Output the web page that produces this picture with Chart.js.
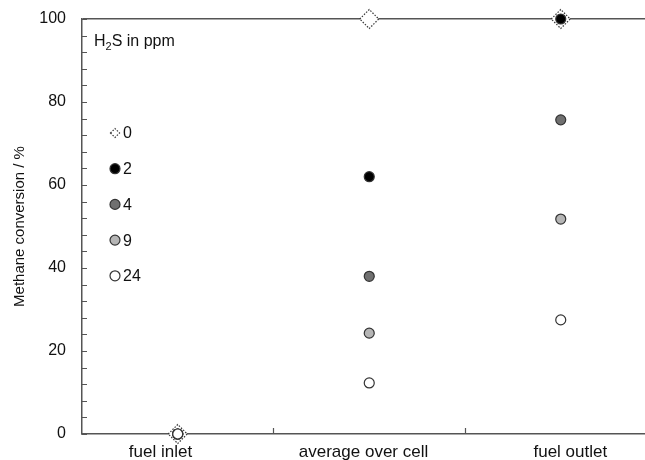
<!DOCTYPE html>
<html lang="en">
<head>
  <meta charset="UTF-8" />
  <title>Methane conversion</title>
  <script src="https://cdn.jsdelivr.net/npm/chart.js"></script>
  <style>
    html, body { margin: 0; padding: 0; background: #fff; overflow: hidden; }
    canvas { display: block; }
  </style>
</head>
<body>
  <canvas id="chart" width="645" height="460"></canvas>

  <script>
    // positions along the cell
    const categories = ['fuel inlet', 'average over cell', 'fuel outlet'];
    // H2S levels in ppm
    const ppm = ['0', '2', '4', '9', '24'];
    // methane conversion in %, one value per position
    const conv0 = [0, 100, 100];
    const conv2 = [0, 62, 100];
    const conv4 = [0, 38, 75.7];
    const conv9 = [0, 24.3, 51.8];
    const conv24 = [0, 12.3, 27.5];
    const yTicks = [0, 20, 40, 60, 80, 100];

    // where the category names sit on the x axis
    const labelAt = [0.41, 1.47, 2.55];

    const axisColor = '#555';
    const font = 'Liberation Sans, Arial, sans-serif';

    const toPoints = arr => arr.map((v, i) => ({ x: i + 0.5, y: v }));

    const series = [
      { label: ppm[0], data: conv0, style: 'rectRot', r: 9.5, fill: '#fff', dotted: true, order: 4 },
      { label: ppm[1], data: conv2, style: 'circle', r: 5, fill: '#000', order: 3 },
      { label: ppm[2], data: conv4, style: 'circle', r: 5, fill: '#707070', order: 2 },
      { label: ppm[3], data: conv9, style: 'circle', r: 5, fill: '#b5b5b5', order: 1 },
      { label: ppm[4], data: conv24, style: 'circle', r: 5, fill: '#fff', order: 0 },
    ];

    // dotted outline for the 0 ppm diamonds
    const dotted = {
      id: 'dotted',
      beforeDatasetDraw(chart, args) {
        const ds = chart.data.datasets[args.index];
        chart.ctx.save();
        if (ds.dotted) chart.ctx.setLineDash([1.5, 1.5]);
      },
      afterDatasetDraw(chart) {
        chart.ctx.restore();
      }
    };

    // tick marks pointing into the plot
    const innerTicks = {
      id: 'innerTicks',
      afterDraw(chart) {
        const { ctx, chartArea, scales } = chart;
        ctx.save();
        ctx.strokeStyle = axisColor;
        ctx.lineWidth = 1.2;
        ctx.beginPath();
        for (let v = 0; v <= 100; v += 4) {
          const y = Math.round(scales.y.getPixelForValue(v)) + 0.5;
          ctx.moveTo(chartArea.left, y);
          ctx.lineTo(chartArea.left + 5, y);
        }
        [1, 2].forEach(v => {
          const x = Math.round(scales.x.getPixelForValue(v)) + 0.5;
          ctx.moveTo(x, chartArea.bottom);
          ctx.lineTo(x, chartArea.bottom - 6);
        });
        ctx.stroke();
        ctx.restore();
      }
    };

    // key inside the plot
    const key = {
      id: 'key',
      afterDraw(chart) {
        const { ctx, chartArea } = chart;
        ctx.save();
        ctx.fillStyle = '#111';
        ctx.font = '16px ' + font;
        ctx.textBaseline = 'middle';
        ctx.textAlign = 'left';
        const tx = chartArea.left + 12;
        const ty = chartArea.top + 23;
        ctx.fillText('H', tx, ty);
        let w = ctx.measureText('H').width;
        ctx.font = '11px ' + font;
        ctx.fillText('2', tx + w, ty + 5);
        w += ctx.measureText('2').width;
        ctx.font = '16px ' + font;
        ctx.fillText('S in ppm', tx + w, ty);

        series.forEach((s, i) => {
          const x = chartArea.left + 33;
          const y = chartArea.top + 114 + i * 35.7;
          ctx.save();
          ctx.strokeStyle = '#333';
          ctx.fillStyle = s.fill;
          ctx.lineWidth = 1.2;
          if (s.dotted) ctx.setLineDash([1.5, 1.5]);
          Chart.helpers.drawPoint(ctx, { pointStyle: s.style, radius: s.dotted ? 4.5 : 5, borderWidth: 1.2, rotation: 0 }, x, y);
          ctx.restore();
          ctx.fillStyle = '#111';
          ctx.fillText(s.label, x + 8, y + 1);
        });
        ctx.restore();
      }
    };

    const ctx = document.getElementById('chart').getContext('2d');
    const chart = new Chart(ctx, {
      type: 'scatter',
      data: {
        datasets: series.map(s => ({
          label: s.label,
          data: toPoints(s.data),
          pointStyle: s.style,
          pointRadius: s.r,
          backgroundColor: s.fill,
          borderColor: '#333',
          borderWidth: 1.2,
          dotted: !!s.dotted,
          order: s.order,
          clip: false,
        })),
      },
      options: {
        responsive: false,
        animation: false,
        events: [],
        layout: { autoPadding: false, padding: { top: 19, right: 0, left: 0, bottom: 0 } },
        plugins: {
          legend: { display: false },
          tooltip: { enabled: false },
        },
        scales: {
          x: {
            type: 'linear',
            min: 0,
            max: 2.94,
            afterBuildTicks: s => { s.ticks = [labelAt[0], 1, labelAt[1], 2, labelAt[2]].map(v => ({ value: v })); },
            afterFit: s => { s.height = 26; s.paddingLeft = 0; s.paddingRight = 0; },
            grid: { display: false, drawTicks: false },
            border: { color: axisColor, width: 1.5 },
            ticks: {
              autoSkip: false,
              maxRotation: 0,
              padding: 8,
              color: '#111',
              font: { family: font, size: 17 },
              callback: v => {
                const i = labelAt.indexOf(v);
                return i >= 0 ? categories[i] : '';
              },
            },
          },
          y: {
            min: 0,
            max: 100,
            afterBuildTicks: s => { s.ticks = yTicks.map(v => ({ value: v })); },
            afterFit: s => { s.width = 82; s.paddingTop = 0; s.paddingBottom = 0; },
            grid: {
              drawTicks: false,
              color: c => c.tick && c.tick.value === 100 ? axisColor : 'transparent',
              lineWidth: 1.5,
            },
            border: { color: axisColor, width: 1.5 },
            ticks: {
              padding: 16,
              color: '#111',
              font: { family: font, size: 16 },
            },
            title: {
              display: true,
              text: 'Methane conversion / %',
              color: '#111',
              font: { family: font, size: 15 },
              padding: { top: 11, bottom: 0 },
            },
          },
        },
      },
      plugins: [dotted, innerTicks, key],
    });
  </script>
</body>
</html>
